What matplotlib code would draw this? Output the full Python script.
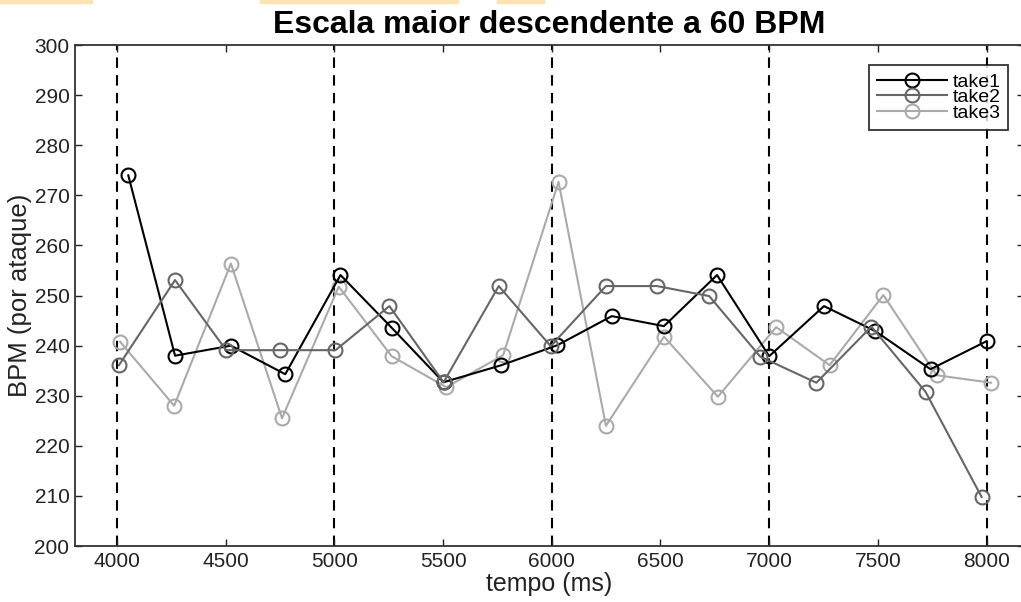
import matplotlib
matplotlib.use('Agg')
import matplotlib.pyplot as plt
from matplotlib.patches import Rectangle

plt.rcParams['font.family'] = ['Liberation Sans', 'DejaVu Sans']

# dados
t1 = [4052, 4267, 4524, 4774, 5028, 5263, 5502, 5768, 6026, 6276, 6516, 6760, 7000, 7252, 7488, 7742, 8000]
bpm1 = [274, 238, 240, 234.3, 254.1, 243.6, 232.7, 236.1, 240.1, 245.9, 243.9, 254.1, 237.9, 247.9, 242.9, 235.3, 240.9]
t2 = [4009, 4267, 4502, 4751, 5005, 5253, 5502, 5756, 5995, 6249, 6484, 6724, 6959, 7217, 7470, 7719, 7977]
bpm2 = [236.1, 253.1, 239.1, 239.1, 239.1, 247.9, 232.7, 251.9, 239.9, 251.9, 251.9, 249.9, 237.8, 232.6, 243.8, 230.8, 209.8]
t3 = [4014, 4263, 4524, 4759, 5020, 5263, 5515, 5776, 6031, 6249, 6516, 6764, 7032, 7278, 7525, 7770, 8020]
bpm3 = [240.8, 228, 256.4, 225.5, 251.8, 237.9, 231.7, 238.1, 272.7, 224, 241.8, 229.8, 243.7, 236.1, 250.1, 234.1, 232.6]
marcas = [4000, 5000, 6000, 7000, 8000]
xticks = [4000, 4500, 5000, 5500, 6000, 6500, 7000, 7500, 8000]
yticks = list(range(200, 301, 10))

fig = plt.figure(figsize=(10.21, 6.02), dpi=100)
ax = fig.add_axes([0.0735, 0.093, 0.929, 0.832])

# faixas laranja no topo (recorte)
for x0, x1 in [(0, 92), (260, 458), (497, 544)]:
    fig.patches.append(Rectangle((x0 / 1021, 1 - 3 / 602), (x1 - x0) / 1021, 3 / 602,
                                 transform=fig.transFigure, color='#fde3b0', zorder=0))

for m in marcas:
    ax.axvline(m, color='black', ls=(0, (5, 3.5)), lw=1.5, zorder=1)

ax.plot(t1, bpm1, '-o', color='black', mfc='none', ms=10, mew=1.5, lw=1.5, label='take1', zorder=3)
ax.plot(t2, bpm2, '-o', color='#666666', mfc='none', ms=10, mew=1.5, lw=1.5, label='take2', zorder=3)
ax.plot(t3, bpm3, '-o', color='#aaaaaa', mfc='none', ms=10, mew=1.5, lw=1.5, label='take3', zorder=2)

ax.set_xlim(3807, 8170)
ax.set_ylim(200, 300)
ax.set_xticks(xticks)
ax.set_yticks(yticks)
ax.tick_params(direction='in', top=True, right=True, length=5, width=1,
               labelsize=15, colors='#222222', pad=4)
for s in ax.spines.values():
    s.set_linewidth(1.3)
    s.set_color('#333333')

ax.set_title('Escala maior descendente a 60 BPM', fontsize=23, fontweight='bold', pad=9)
ax.set_xlabel('tempo (ms)', fontsize=18, color='#222222', labelpad=1)
ax.set_ylabel('BPM (por ataque)', fontsize=18.5, color='#222222')
ax.yaxis.set_label_coords(-0.045, 0.5)

leg = ax.legend(loc='upper right', bbox_to_anchor=(0.984, 0.96), fontsize=14,
                frameon=True, fancybox=False, borderpad=0.4, labelspacing=-0.1,
                handlelength=3.6, handletextpad=0.3, borderaxespad=0)
leg.get_frame().set_edgecolor('black')
leg.get_frame().set_linewidth(1.3)

fig.savefig('out.png', dpi=100)
